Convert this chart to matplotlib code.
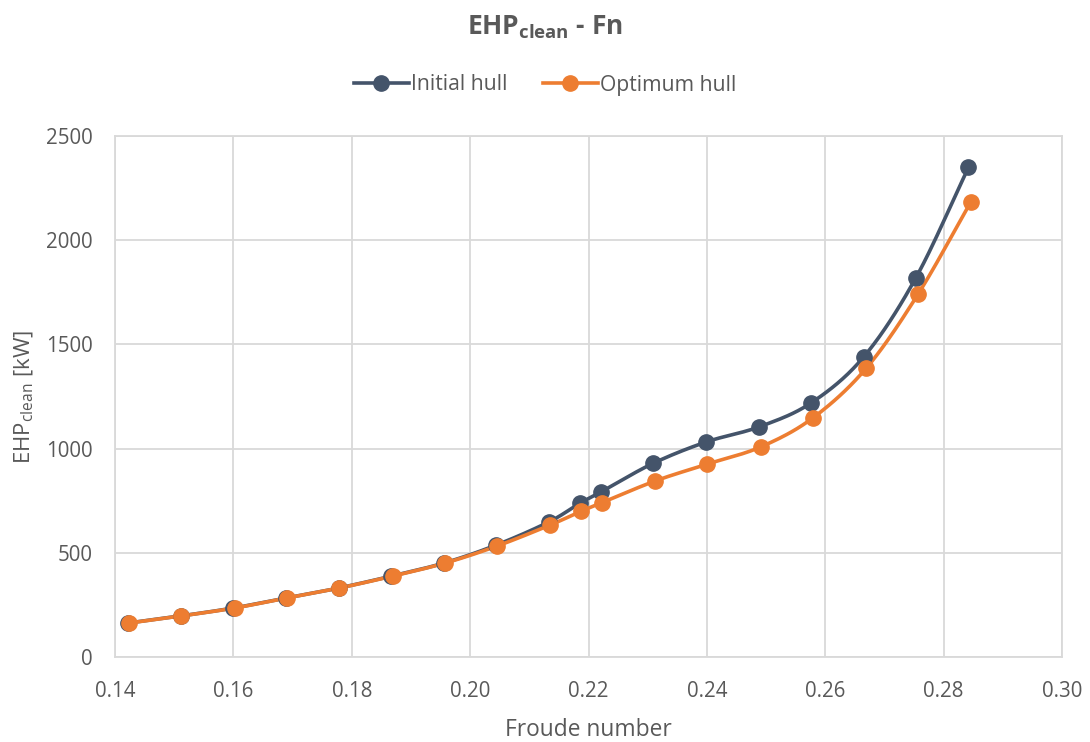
import numpy as np
import matplotlib
matplotlib.use("Agg")
import matplotlib.pyplot as plt
from matplotlib.lines import Line2D

plt.rcParams['font.family'] = ['Open Sans', 'DejaVu Sans']
plt.rcParams['mathtext.fontset'] = 'custom'
plt.rcParams['mathtext.rm'] = 'Open Sans'
plt.rcParams['mathtext.bf'] = 'Open Sans:bold'
plt.rcParams['mathtext.it'] = 'Open Sans:italic'

# Froude numbers and effective horsepower (clean hull), kW
fn_initial = [0.1422, 0.1511, 0.1600, 0.1689, 0.1778, 0.1867, 0.1956, 0.2044, 0.2133,
              0.2185, 0.2221, 0.2309, 0.2399, 0.2488, 0.2576, 0.2665, 0.2753, 0.2842]
ehp_initial = [163, 197, 235, 283, 331, 388, 451, 537, 648,
               737, 792, 929, 1032, 1104, 1219, 1440, 1819, 2349]

fn_optimum = [0.1424, 0.1512, 0.1602, 0.1690, 0.1779, 0.1869, 0.1958, 0.2046, 0.2135,
              0.2188, 0.2223, 0.2313, 0.2401, 0.2491, 0.2579, 0.2669, 0.2757, 0.2846]
ehp_optimum = [163, 197, 235, 283, 331, 388, 451, 533, 633,
               700, 741, 845, 926, 1008, 1147, 1385, 1742, 2184]

series_names = ["Initial hull", "Optimum hull"]
colors = ["#44546A", "#ED7D31"]
x_ticks = [0.14, 0.16, 0.18, 0.20, 0.22, 0.24, 0.26, 0.28, 0.30]
y_ticks = [0, 500, 1000, 1500, 2000, 2500]

TEXT = "#595959"
GRID = "#D9D9D9"
LW = 2.6
MS = 11


def smooth(x, y, n=20):
    """Catmull-Rom curve through the points (parameterised by index)."""
    p = np.column_stack([x, y]).astype(float)
    p = np.vstack([p[0] - (p[1] - p[0]), p, p[-1] + (p[-1] - p[-2])])
    out = []
    t = np.linspace(0, 1, n, endpoint=False)[:, None]
    for i in range(1, len(p) - 2):
        p0, p1, p2, p3 = p[i - 1], p[i], p[i + 1], p[i + 2]
        seg = 0.5 * ((2 * p1) + (-p0 + p2) * t + (2 * p0 - 5 * p1 + 4 * p2 - p3) * t ** 2
                     + (-p0 + 3 * p1 - 3 * p2 + p3) * t ** 3)
        out.append(seg)
    out.append(p[-2][None, :])
    s = np.vstack(out)
    return s[:, 0], s[:, 1]


fig = plt.figure(figsize=(10.90, 7.42), dpi=100)
ax = fig.add_axes([115 / 1090, 1 - 657 / 742, (1062 - 115) / 1090, (657 - 136) / 742])

for xs, ys, c in [(fn_initial, ehp_initial, colors[0]), (fn_optimum, ehp_optimum, colors[1])]:
    sx, sy = smooth(xs, ys)
    ax.plot(sx, sy, color=c, lw=LW, solid_capstyle='round', zorder=3)
    ax.plot(xs, ys, 'o', color=c, ms=MS, zorder=4)

ax.set_xlim(0.14, 0.30)
ax.set_ylim(0, 2500)
ax.set_xticks(x_ticks)
ax.set_xticklabels([f"{v:.2f}" for v in x_ticks])
ax.set_yticks(y_ticks)
ax.grid(True, color=GRID, lw=1.3, zorder=0)
for s in ax.spines.values():
    s.set_color(GRID)
    s.set_linewidth(1.3)
ax.tick_params(length=0, labelsize=14.8, labelcolor=TEXT)
ax.tick_params(axis='x', pad=17)
ax.tick_params(axis='y', pad=16)

ax.set_xlabel("Froude number", fontsize=16.4, color=TEXT, labelpad=12)
ax.set_ylabel(r"EHP$_{\mathrm{clean}}$ [kW]", fontsize=16, color=TEXT, labelpad=7)

fig.text(0.5, 1 - 27 / 742, r"$\mathbf{EHP_{clean}}$ - Fn", ha='center', va='center',
         fontsize=19, fontweight='bold', color=TEXT)

handles = [Line2D([], [], color=c, lw=LW, marker='o', ms=MS) for c in colors]
fig.legend(handles, series_names, loc='center', bbox_to_anchor=(0.5, 1 - 85 / 742),
           ncol=2, frameon=False, fontsize=15.2, labelcolor=TEXT, handlelength=2.6,
           handletextpad=0.1, columnspacing=1.7)

fig.savefig("out.png", dpi=100)
